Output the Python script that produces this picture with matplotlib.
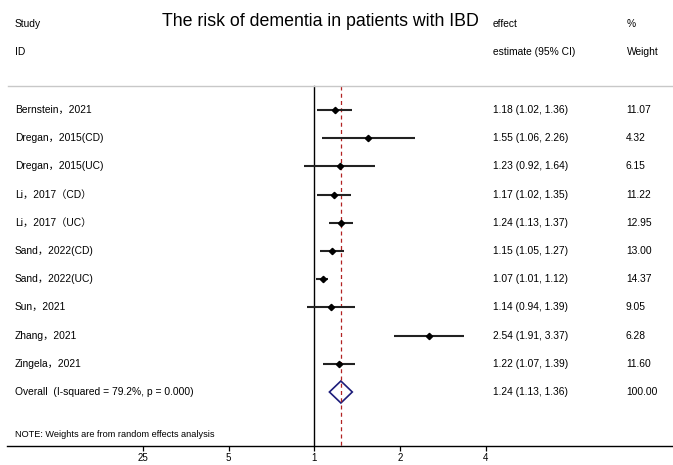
import numpy as np
import matplotlib
matplotlib.use('Agg')
import matplotlib.pyplot as plt
import matplotlib.transforms as mtransforms

plt.rcParams['font.family'] = ['Liberation Sans', 'Noto Sans CJK SC']

# studies, effect estimates and 95% CI
studies = ['Bernstein，2021', 'Dregan，2015(CD)', 'Dregan，2015(UC)', 'Li，2017（CD）',
           'Li，2017（UC）', 'Sand，2022(CD)', 'Sand，2022(UC)', 'Sun，2021',
           'Zhang，2021', 'Zingela，2021']
es = [1.18, 1.55, 1.23, 1.17, 1.24, 1.15, 1.07, 1.14, 2.54, 1.22]
lo = [1.02, 1.06, 0.92, 1.02, 1.13, 1.05, 1.01, 0.94, 1.91, 1.07]
hi = [1.36, 2.26, 1.64, 1.35, 1.37, 1.27, 1.12, 1.39, 3.37, 1.39]
weights = ['11.07', '4.32', '6.15', '11.22', '12.95', '13.00', '14.37', '9.05', '6.28', '11.60']

overall_es, overall_lo, overall_hi = 1.24, 1.13, 1.36
overall_label = 'Overall  (I-squared = 79.2%, p = 0.000)'
overall_weight = '100.00'

xticks = [0.25, 0.5, 1, 2, 4]
xticklabels = ['25', '5', '1', '2', '4']

fig = plt.figure(figsize=(6.73, 4.65), dpi=100)
ax = fig.add_axes([7/673, 19/465, 666/673, 446/465])
ax.set_xscale('log', base=2)
ax.set_xlim(2**-3.590, 2**4.190)
ax.set_ylim(11.915, -3.90)
for s in ['left', 'right', 'top']:
    ax.spines[s].set_visible(False)
ax.spines['bottom'].set_linewidth(1.0)
ax.set_yticks([])
ax.set_xticks(xticks)
ax.set_xticklabels(xticklabels)
ax.minorticks_off()
ax.tick_params(axis='x', direction='out', length=3.6, width=0.9, pad=1.5, labelsize=7)

rows = np.arange(len(studies))
top_line = -0.85
axis_y = 11.915

# reference lines: null effect and pooled estimate
ax.plot([1, 1], [top_line, axis_y], color='black', lw=1.0, clip_on=False)
ax.plot([overall_es, overall_es], [top_line, axis_y], color='#b22222', lw=0.9,
        dashes=(3.2, 2.6), clip_on=False)

# study estimates
for i in rows:
    ax.plot([lo[i], hi[i]], [i, i], color='#222222', lw=1.5, solid_capstyle='butt')
ax.plot(es, rows, 'D', color='black', markersize=3.2, linestyle='none')

# pooled diamond
oy = len(studies)
ax.fill([overall_lo, overall_es, overall_hi, overall_es, overall_lo],
        [oy, oy - 0.39, oy, oy + 0.39, oy], facecolor='none', edgecolor='#1c1c7a', lw=1.2)

# text columns
tr = mtransforms.blended_transform_factory(fig.transFigure, ax.transData)
fs = 7.4
ax.plot([8/673, 1], [top_line, top_line], color='#c8c8c8', lw=1.0, transform=tr, clip_on=False)

ax.text(15/673, -3.05, 'Study', transform=tr, fontsize=fs, va='center')
ax.text(15/673, -2.06, 'ID', transform=tr, fontsize=fs, va='center')
ax.text(493/673, -3.05, 'effect', transform=tr, fontsize=fs, va='center')
ax.text(493/673, -2.06, 'estimate (95% CI)', transform=tr, fontsize=fs, va='center')
ax.text(627/673, -3.05, '%', transform=tr, fontsize=fs, va='center')
ax.text(627/673, -2.06, 'Weight', transform=tr, fontsize=fs, va='center')
ax.text(320/673, -3.12, 'The risk of dementia in patients with IBD', transform=tr,
        fontsize=12.8, ha='center', va='center')

for i in rows:
    ax.text(15/673, i, studies[i], transform=tr, fontsize=fs, va='center')
    ax.text(493/673, i, f'{es[i]:.2f} ({lo[i]:.2f}, {hi[i]:.2f})', transform=tr,
            fontsize=fs, va='center')
    ax.text(626/673, i, weights[i], transform=tr, fontsize=fs, va='center')

ax.text(15/673, oy, overall_label, transform=tr, fontsize=fs, va='center')
ax.text(493/673, oy, f'{overall_es:.2f} ({overall_lo:.2f}, {overall_hi:.2f})',
        transform=tr, fontsize=fs, va='center')
ax.text(626/673, oy, overall_weight, transform=tr, fontsize=fs, va='center')

ax.text(15/673, 11.49, 'NOTE: Weights are from random effects analysis', transform=tr,
        fontsize=6.55, va='center')

fig.savefig('out.png', dpi=100)
